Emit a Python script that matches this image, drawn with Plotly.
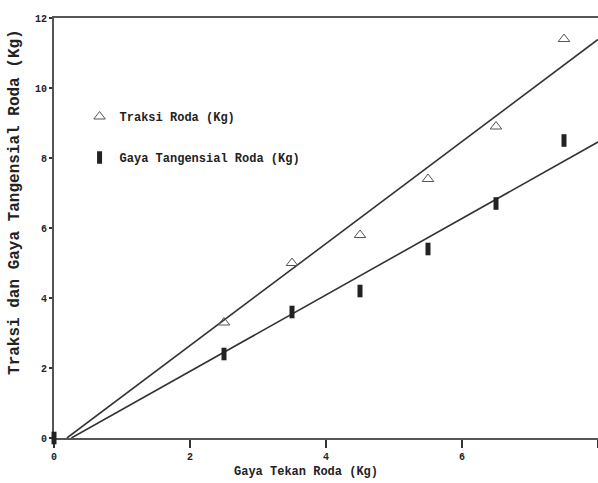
import numpy as np
import plotly.graph_objects as go

gaya_tekan = [0, 2.5, 3.5, 4.5, 5.5, 6.5, 7.5]
traksi = [0, 3.3, 5.0, 5.8, 7.4, 8.9, 11.4]
tangensial = [0, 2.4, 3.6, 4.2, 5.4, 6.7, 8.5]
x_ticks = [0, 2, 4, 6, 8]
y_ticks = [0, 2, 4, 6, 8, 10, 12]

FONT = "Liberation Mono"
INK = "#222222"

def fit_line(x, y, xmax=8.0):
    m, c = np.polyfit(x, y, 1)
    x0 = -c / m
    xs = np.array([x0, xmax])
    return xs, m * xs + c

fig = go.Figure()

xs1, ys1 = fit_line(gaya_tekan, traksi)
xs2, ys2 = fit_line(gaya_tekan, tangensial)
fig.add_trace(go.Scatter(x=xs1, y=ys1, mode="lines", line=dict(color="#333", width=1.6),
                         showlegend=False, hoverinfo="skip"))
fig.add_trace(go.Scatter(x=xs2, y=ys2, mode="lines", line=dict(color="#333", width=1.6),
                         showlegend=False, hoverinfo="skip"))

fig.add_trace(go.Scatter(x=gaya_tekan[1:], y=traksi[1:], mode="markers",
                         name="Traksi Roda (Kg)", legendgroup="a",
                         marker=dict(symbol="triangle-up-open", size=10,
                                     color="#555", line=dict(width=1))))
fig.add_trace(go.Scatter(x=gaya_tekan, y=tangensial, mode="markers",
                         name="Gaya Tangensial Roda (Kg)", legendgroup="b",
                         cliponaxis=False,
                         marker=dict(symbol="line-ns", size=9, color=INK,
                                     line=dict(width=5, color=INK))))

fig.update_layout(
    width=598, height=483,
    margin=dict(l=54, r=0, t=18, b=45),
    paper_bgcolor="white", plot_bgcolor="white",
    font=dict(family=FONT, size=12, color=INK),
    legend=dict(x=0.047, y=0.8, xanchor="left", yanchor="top",
                font=dict(family=FONT, size=12, color=INK, weight="bold"),
                tracegroupgap=22, bgcolor="rgba(0,0,0,0)", itemwidth=30),
    xaxis=dict(range=[0, 8], tickvals=x_ticks, ticktext=[str(v) for v in x_ticks],
               showline=True, mirror=True, linecolor="#555", linewidth=2,
               showgrid=False, zeroline=False, layer="below traces",
               ticks="outside", ticklen=8, tickwidth=1.5, tickcolor="#333",
               tickfont=dict(family=FONT, size=10, weight="bold")),
    yaxis=dict(range=[0, 12], tickvals=y_ticks, ticktext=[str(v) for v in y_ticks],
               showline=True, linecolor="#555", linewidth=2,
               showgrid=False, zeroline=False, layer="below traces",
               ticks="outside", ticklen=3, tickwidth=1.5, tickcolor="#333",
               tickfont=dict(family=FONT, size=10, weight="bold")),
    annotations=[
        dict(text="Gaya Tekan Roda (Kg)", xref="paper", yref="paper",
             x=0.463, y=-0.081, xanchor="center", yanchor="middle", showarrow=False,
             font=dict(family=FONT, size=12, weight="bold", color=INK)),
        dict(text="Traksi dan Gaya Tangensial Roda (Kg)", xref="paper", yref="paper",
             x=-0.0717, y=0.562, xanchor="center", yanchor="middle", showarrow=False,
             textangle=-90,
             font=dict(family=FONT, size=16, weight="bold", color=INK)),
    ],
)

fig.write_html("out.html")
